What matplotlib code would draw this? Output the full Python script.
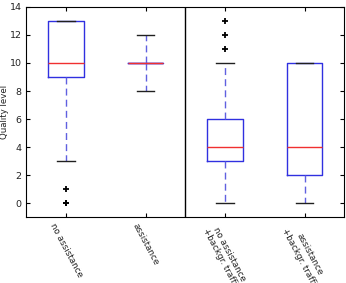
import matplotlib
matplotlib.use('Agg')
import matplotlib.pyplot as plt

# Resume des boites
labels = ['no assistance', 'assistance',
          'no assistance\n+backgr. traffic', 'assistance\n+backgr. traffic']
q1 = [9, 10, 3, 2]
med = [10, 10, 4, 4]
q3 = [13, 10, 6, 10]
whislo = [3, 8, 0, 0]
whishi = [13, 12, 10, 10]
fliers = [[1, 0, 0], [], [11, 12, 13], []]

stats = []
for i in range(len(labels)):
    stats.append({'label': labels[i], 'q1': q1[i], 'med': med[i], 'q3': q3[i],
                  'whislo': whislo[i], 'whishi': whishi[i], 'fliers': fliers[i]})

fig = plt.figure(figsize=(3.46, 2.83), dpi=100)
ax = fig.add_axes([0.076, 0.232, 0.919, 0.744])

ax.bxp(stats, widths=0.45,
       boxprops=dict(color='#3030e0', linewidth=1),
       medianprops=dict(color='#f03030', linewidth=1),
       whiskerprops=dict(color='#6060e0', linestyle=(0, (5, 3)), linewidth=1),
       capprops=dict(color='#202020', linewidth=1),
       flierprops=dict(marker='+', markeredgecolor='black', markersize=5,
                       markeredgewidth=1.3, linestyle='none'))

ax.axvline(2.5, color='black', linewidth=1)

ax.set_xlim(0.5, 4.5)
ax.set_ylim(-1, 14)
ax.set_yticks(range(0, 15, 2))
ax.tick_params(direction='in', top=True, right=True, length=3, pad=3.5,
               labelsize=6.8, labelcolor='#222222')
ax.tick_params(axis='x', labelsize=6.3)
plt.setp(ax.get_xticklabels(), rotation=-62)
ax.set_ylabel('Quality level', fontsize=6.2, color='#222222')
ax.yaxis.set_label_coords(-0.053, 0.5)
for s in ax.spines.values():
    s.set_linewidth(0.8)

fig.savefig('out.png', dpi=100)
